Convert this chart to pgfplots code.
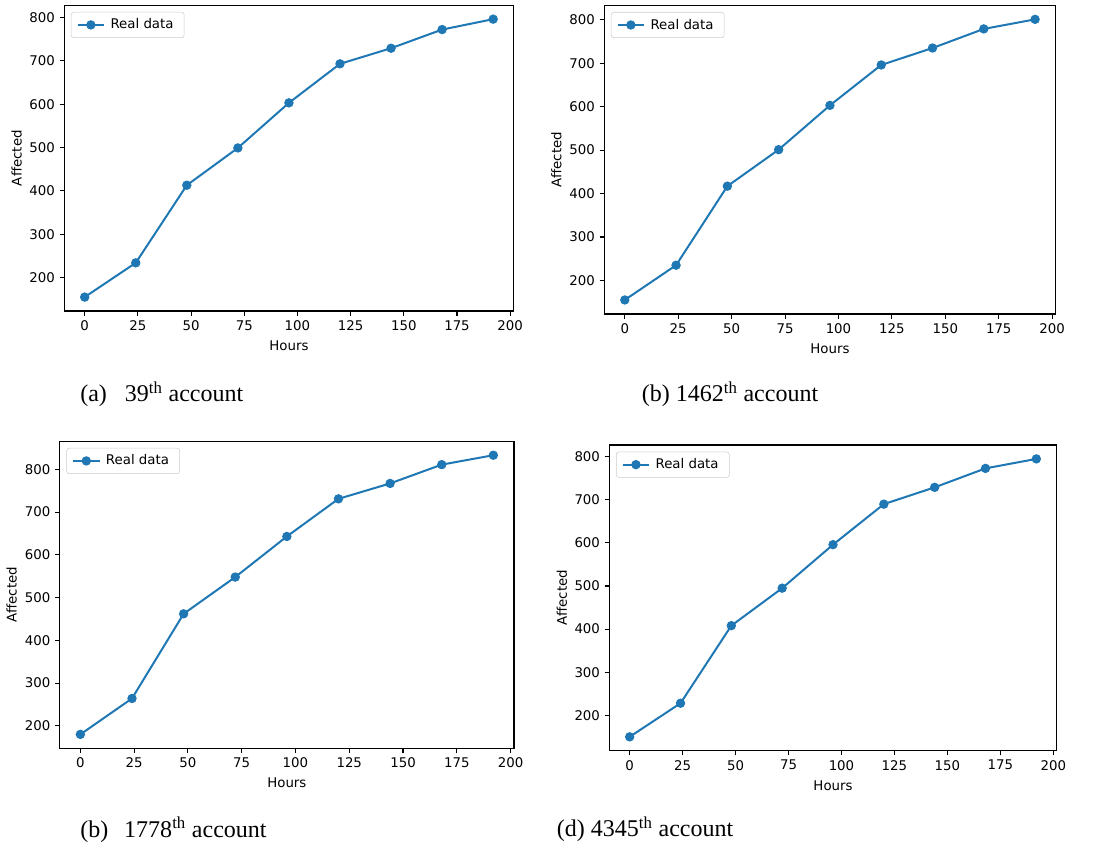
\documentclass[border=0pt]{standalone}
\usepackage{pgfplots}
\pgfplotsset{compat=1.18}
\usepackage{fontspec}
\setmainfont{DejaVu Sans}
\newfontfamily\capfont{Liberation Serif}
\definecolor{mplblue}{HTML}{1F77B4}
\pgfplotsset{
  mplline/.style={mplblue, line width=1.5pt, mark=*, mark size=3.1pt, mark options={solid, fill=mplblue, line width=0.8pt}},
  mplstyle/.style={
    scale only axis,
    anchor=south west,
    xmin=-9.6, xmax=201.6,
    xtick={0,25,...,200},
    ytick={200,300,...,800},
    xtick pos=bottom, ytick pos=left,
    tick align=outside,
    major tick length=3.5pt,
    tick style={black, line width=0.8pt},
    axis line style={line width=0.8pt},
    tick label style={font=\fontsize{10}{12}\selectfont},
    /pgf/number format/assume math mode=true,
    xlabel=Hours, ylabel=Affected,
    label style={font=\fontsize{10}{12}\selectfont},
    xlabel style={at={(axis description cs:0.5,-0.113)}, anchor=center},
    ylabel style={at={(axis description cs:-0.106,0.5)}, anchor=center},
    legend style={at={(0,1)}, anchor=north west, xshift=5pt, yshift=-5pt,
      draw=black!20, rounded corners=2pt, font=\fontsize{10}{12}\selectfont,
      inner xsep=4pt, inner ysep=3pt, fill=white,
      nodes={inner xsep=4pt, inner ysep=2pt}},
    legend cell align=left,
    legend image code/.code={\draw[mark repeat=2,mark phase=2] plot coordinates {(0pt,0pt)(10pt,0pt)(20pt,0pt)};},
  }
}
\begin{document}
\begin{tikzpicture}
\path[use as bounding box] (0,0) rectangle (819.75pt,635.25pt);
% (a)
\begin{axis}[mplstyle, at={(48.2pt,402pt)}, width=337pt, height=229.3pt, ymin=122.95, ymax=828.05]
\addplot[mplline] coordinates {(0,155) (24,234) (48,413) (72,499) (96,603) (120,693) (144,729) (168,772) (192,796)};
\addlegendentry{Real data}
\end{axis}
% (b)
\begin{axis}[mplstyle, at={(453.2pt,399.75pt)}, width=338.5pt, height=231.5pt, ymin=122.7, ymax=833.3]
\addplot[mplline] coordinates {(0,155) (24,235) (48,417) (72,501) (96,603) (120,696) (144,735) (168,779) (192,801)};
\addlegendentry{Real data}
\end{axis}
% (c)
\begin{axis}[mplstyle, at={(44.8pt,74pt)}, width=340.7pt, height=230.3pt, ymin=147.35, ymax=865.65]
\addplot[mplline] coordinates {(0,180) (24,264) (48,462) (72,548) (96,643) (120,731) (144,767) (168,811) (192,833)};
\addlegendentry{Real data}
\end{axis}
% (d)
\begin{axis}[mplstyle, at={(457pt,72.2pt)}, width=335.5pt, height=229.3pt, ymin=117.75, ymax=827.25]
\addplot[mplline] coordinates {(0,150) (24,228) (48,408) (72,495) (96,596) (120,690) (144,729) (168,773) (192,795)};
\addlegendentry{Real data}
\end{axis}
\begin{scope}[every node/.style={anchor=base west, inner sep=0pt, font=\capfont\fontsize{18}{21}\selectfont}]
\node at (60pt,334pt) {(a)\hspace{13.5pt}39\textsuperscript{th} account};
\node at (481.2pt,334pt) {(b) 1462\textsuperscript{th} account};
\node at (60pt,7.3pt) {(b)\hspace{12pt}1778\textsuperscript{th} account};
\node at (417.5pt,7.7pt) {(d) 4345\textsuperscript{th} account};
\end{scope}
\end{tikzpicture}
\end{document}
